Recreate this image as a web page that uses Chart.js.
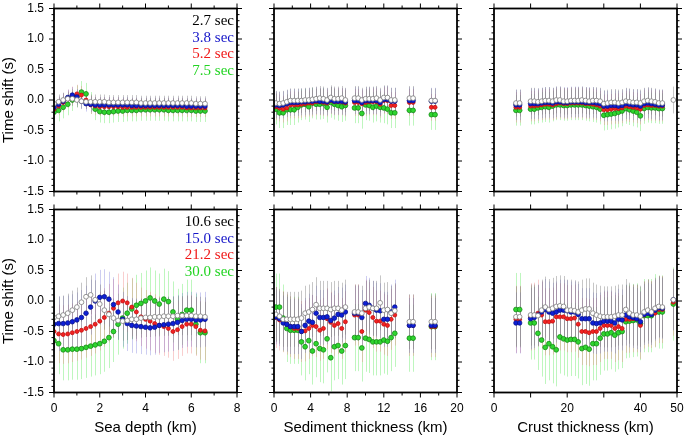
<!DOCTYPE html>
<html>
<head>
<meta charset="utf-8">
<script src="https://cdn.jsdelivr.net/npm/chart.js@4.4.1/dist/chart.umd.min.js"></script>
<style>
html, body { margin: 0; padding: 0; background: #fff; overflow: hidden; }
#wrap { position: relative; width: 685px; height: 437px; overflow: hidden; }
canvas { position: absolute; }
</style>
</head>
<body>
<div id="wrap"></div>
<script>
// legend labels (periods)
const topPeriods = ['2.7 sec', '3.8 sec', '5.2 sec', '7.5 sec'];
const bottomPeriods = ['10.6 sec', '15.0 sec', '21.2 sec', '30.0 sec'];

// sea depth (km)
const seaDepthKm = [0, 0.2, 0.4, 0.6, 0.8, 1.0, 1.2, 1.4, 1.6, 1.8,
  2.0, 2.2, 2.4, 2.6, 2.8, 3.0, 3.2, 3.4, 3.6, 3.8,
  4.0, 4.2, 4.4, 4.6, 4.8, 5.0, 5.2, 5.4, 5.6, 5.8,
  6.0, 6.2, 6.4, 6.6];
const seaTop27 = [-0.06, -0.03, 0.0, 0.02, 0.02, 0.0, -0.02, -0.03, -0.03, -0.03,
  -0.03, -0.03, -0.04, -0.04, -0.04, -0.04, -0.04, -0.04, -0.04, -0.05,
  -0.05, -0.05, -0.05, -0.05, -0.05, -0.05, -0.05, -0.05, -0.05, -0.05,
  -0.05, -0.06, -0.06, -0.06];
const seaTop38 = [-0.12, -0.07, -0.02, 0.04, 0.08, 0.05, -0.02, -0.06, -0.07, -0.08,
  -0.08, -0.08, -0.08, -0.08, -0.08, -0.08, -0.08, -0.09, -0.09, -0.09,
  -0.09, -0.09, -0.09, -0.09, -0.09, -0.09, -0.09, -0.09, -0.09, -0.1,
  -0.1, -0.1, -0.1, -0.1];
const seaTop52 = [-0.15, -0.1, -0.04, 0.02, 0.07, 0.1, 0.08, 0.0, -0.08, -0.1,
  -0.11, -0.11, -0.11, -0.11, -0.11, -0.12, -0.12, -0.12, -0.12, -0.12,
  -0.12, -0.12, -0.12, -0.12, -0.12, -0.12, -0.12, -0.12, -0.12, -0.13,
  -0.13, -0.13, -0.13, -0.13];
const seaTop75 = [-0.2, -0.17, -0.12, -0.07, 0.0, 0.06, 0.13, 0.1, -0.05, -0.15,
  -0.19, -0.2, -0.2, -0.19, -0.18, -0.18, -0.17, -0.17, -0.17, -0.16,
  -0.16, -0.16, -0.16, -0.16, -0.16, -0.17, -0.17, -0.17, -0.17, -0.17,
  -0.17, -0.18, -0.18, -0.18];
const seaBot106 = [-0.27, -0.25, -0.23, -0.2, -0.15, -0.1, -0.02, 0.07, 0.1, 0.02,
  -0.05, -0.15, -0.22, -0.28, -0.32, -0.33, -0.32, -0.3, -0.3, -0.28,
  -0.27, -0.27, -0.26, -0.26, -0.25, -0.25, -0.25, -0.24, -0.24, -0.24,
  -0.24, -0.25, -0.25, -0.26];
const seaBot150 = [-0.38, -0.37, -0.37, -0.36, -0.34, -0.31, -0.27, -0.2, -0.1, 0.0,
  0.06, 0.07, 0.03, -0.06, -0.18, -0.3, -0.37, -0.4, -0.41, -0.42,
  -0.43, -0.44, -0.43, -0.4, -0.39, -0.38, -0.37, -0.35, -0.32, -0.3,
  -0.3, -0.31, -0.31, -0.3];
const seaBot212 = [-0.5, -0.54, -0.55, -0.54, -0.52, -0.5, -0.48, -0.45, -0.42, -0.38,
  -0.33, -0.27, -0.2, -0.12, -0.03, 0.0, -0.03, -0.1, -0.18, -0.26,
  -0.3, -0.33, -0.37, -0.4, -0.42, -0.45, -0.5, -0.47, -0.42, -0.38,
  -0.38, -0.42, -0.48, -0.49];
const seaBot300 = [-0.65, -0.7, -0.8, -0.8, -0.79, -0.79, -0.78, -0.76, -0.74, -0.72,
  -0.7, -0.66, -0.6, -0.5, -0.38, -0.28, -0.2, -0.13, -0.07, -0.04,
  0.0, 0.05, 0.0, -0.05, 0.03, -0.01, -0.18, -0.3, -0.22, -0.15,
  -0.15, -0.38, -0.52, -0.52];

// sediment thickness (km)
const sedimentKm = [0.2, 0.6, 1.0, 1.4, 1.8, 2.2, 2.6, 3.0, 3.4, 3.8,
  4.2, 4.6, 5.0, 5.4, 5.8, 6.2, 6.6, 7.0, 7.4, 7.8,
  8.8, 9.2, 9.6, 10.0, 10.4, 10.8, 11.2, 11.6, 12.0, 12.4,
  12.8, 13.2, 14.8, 15.2, 17.2, 17.6];
const sedTop27 = [-0.05, -0.06, -0.05, -0.03, -0.01, -0.01, -0.01, -0.01, 0.0, 0.0,
  0.01, 0.02, 0.03, 0.02, 0.0, 0.04, 0.02, 0.02, 0.03, 0.0,
  0.03, 0.03, 0.0, 0.02, 0.02, 0.02, 0.03, 0.0, 0.04, 0.04,
  0.0, 0.0, 0.03, 0.03, -0.01, -0.01];
const sedTop38 = [-0.08, -0.09, -0.08, -0.06, -0.04, -0.04, -0.04, -0.03, -0.03, -0.02,
  -0.02, -0.01, -0.02, -0.02, -0.03, 0.0, -0.02, -0.02, -0.02, -0.03,
  -0.01, -0.01, -0.04, -0.01, -0.01, -0.01, -0.01, -0.04, 0.01, 0.01,
  -0.02, -0.02, -0.01, -0.01, -0.02, -0.02];
const sedTop52 = [-0.11, -0.13, -0.15, -0.13, -0.08, -0.08, -0.08, -0.07, -0.06, -0.05,
  -0.05, -0.03, -0.03, -0.04, -0.05, -0.01, -0.03, -0.03, -0.03, -0.05,
  -0.04, -0.04, -0.06, -0.04, -0.03, -0.03, -0.03, -0.07, -0.01, -0.01,
  -0.09, -0.09, -0.04, -0.04, -0.12, -0.12];
const sedTop75 = [-0.15, -0.21, -0.21, -0.16, -0.16, -0.16, -0.12, -0.08, -0.07, -0.11,
  -0.05, -0.07, -0.07, -0.06, -0.12, -0.04, -0.07, -0.09, -0.11, -0.09,
  -0.13, -0.13, -0.22, -0.08, -0.09, -0.12, -0.1, -0.12, -0.13, -0.15,
  -0.21, -0.21, -0.17, -0.17, -0.24, -0.24];
const sedBot106 = [-0.22, -0.25, -0.3, -0.3, -0.3, -0.3, -0.3, -0.28, -0.2, -0.18,
  -0.14, -0.06, -0.12, -0.12, -0.12, -0.14, -0.12, -0.12, -0.15, -0.1,
  -0.18, -0.18, -0.2, -0.12, -0.1, -0.12, -0.12, -0.03, -0.15, -0.14,
  -0.2, -0.16, -0.34, -0.34, -0.34, -0.34];
const sedBot150 = [-0.26, -0.29, -0.36, -0.38, -0.42, -0.42, -0.42, -0.5, -0.4, -0.33,
  -0.35, -0.2, -0.27, -0.27, -0.26, -0.32, -0.28, -0.22, -0.23, -0.18,
  -0.2, -0.2, -0.27, -0.04, -0.07, -0.12, -0.15, -0.16, -0.3, -0.3,
  -0.18, -0.1, -0.4, -0.4, -0.4, -0.4];
const sedBot212 = [-0.27, -0.31, -0.34, -0.38, -0.42, -0.45, -0.45, -0.5, -0.49, -0.45,
  -0.4, -0.42, -0.48, -0.45, -0.29, -0.35, -0.4, -0.37, -0.45, -0.34,
  -0.23, -0.23, -0.5, -0.15, -0.19, -0.27, -0.33, -0.33, -0.38, -0.4,
  -0.3, -0.23, -0.4, -0.4, -0.42, -0.42];
const sedBot300 = [-0.1, -0.1, -0.28, -0.45, -0.48, -0.48, -0.48, -0.67, -0.75, -0.65,
  -0.82, -0.7, -0.78, -0.8, -0.62, -0.93, -0.75, -0.73, -0.82, -0.73,
  -0.6, -0.6, -0.77, -0.61, -0.63, -0.67, -0.67, -0.67, -0.64, -0.66,
  -0.6, -0.53, -0.61, -0.61, -0.42, -0.42];

// crust thickness (km)
const crustKm = [6, 7, 10, 11, 12, 13, 14, 15, 16, 17,
  18, 19, 20, 21, 22, 23, 24, 25, 26, 27,
  28, 29, 30, 31, 32, 33, 34, 35, 36, 37,
  38, 39, 40, 41, 42, 43, 44, 45, 46, 49];
const crustTop27 = [-0.05, -0.05, -0.02, -0.02, -0.03, -0.02, -0.01, -0.01, -0.02, 0.0,
  0.0, -0.02, -0.02, -0.01, -0.01, -0.01, 0.0, -0.01, -0.02, -0.01,
  -0.01, -0.02, -0.06, -0.05, -0.04, -0.04, -0.05, -0.04, -0.02, -0.03,
  -0.04, -0.04, -0.05, -0.02, -0.01, -0.02, -0.03, -0.05, -0.05, 0.0];
const crustTop38 = [-0.08, -0.08, -0.06, -0.06, -0.06, -0.05, -0.04, -0.04, -0.05, -0.03,
  -0.03, -0.04, -0.04, -0.03, -0.03, -0.03, -0.03, -0.04, -0.04, -0.04,
  -0.05, -0.06, -0.1, -0.1, -0.09, -0.09, -0.1, -0.09, -0.06, -0.07,
  -0.08, -0.08, -0.1, -0.06, -0.05, -0.06, -0.07, -0.08, -0.08, null];
const crustTop52 = [-0.12, -0.12, -0.1, -0.1, -0.09, -0.08, -0.07, -0.07, -0.08, -0.06,
  -0.05, -0.06, -0.06, -0.05, -0.05, -0.05, -0.05, -0.06, -0.06, -0.07,
  -0.08, -0.1, -0.16, -0.16, -0.15, -0.14, -0.14, -0.13, -0.1, -0.11,
  -0.12, -0.13, -0.15, -0.09, -0.08, -0.09, -0.09, -0.1, -0.1, null];
const crustTop75 = [-0.17, -0.17, -0.15, -0.15, -0.13, -0.12, -0.11, -0.12, -0.1, -0.08,
  -0.08, -0.09, -0.09, -0.08, -0.08, -0.08, -0.08, -0.09, -0.1, -0.11,
  -0.12, -0.15, -0.25, -0.24, -0.23, -0.22, -0.2, -0.18, -0.14, -0.16,
  -0.18, -0.2, -0.26, -0.14, -0.12, -0.13, -0.13, -0.14, -0.14, null];
const crustBot106 = [-0.26, -0.26, -0.23, -0.23, -0.24, -0.15, -0.1, -0.14, -0.12, -0.09,
  -0.08, -0.09, -0.15, -0.15, -0.16, -0.18, -0.15, -0.13, -0.13, -0.2,
  -0.23, -0.25, -0.26, -0.26, -0.26, -0.25, -0.23, -0.23, -0.14, -0.2,
  -0.23, -0.23, -0.25, -0.18, -0.15, -0.18, -0.12, -0.09, -0.1, 0.02];
const crustBot150 = [-0.36, -0.36, -0.29, -0.27, -0.23, -0.18, -0.14, -0.18, -0.2, -0.18,
  -0.15, -0.15, -0.16, -0.18, -0.18, -0.22, -0.29, -0.29, -0.29, -0.36,
  -0.37, -0.36, -0.33, -0.33, -0.33, -0.36, -0.3, -0.31, -0.23, -0.26,
  -0.27, -0.29, -0.34, -0.22, -0.2, -0.22, -0.15, -0.11, -0.12, 0.02];
const crustBot212 = [-0.3, -0.3, -0.26, -0.25, -0.2, -0.23, -0.34, -0.34, -0.33, -0.26,
  -0.26, -0.26, -0.29, -0.29, -0.28, -0.38, -0.5, -0.5, -0.52, -0.5,
  -0.5, -0.45, -0.4, -0.4, -0.4, -0.45, -0.42, -0.45, -0.3, -0.3,
  -0.29, -0.29, -0.4, -0.23, -0.2, -0.22, -0.2, -0.14, -0.14, -0.02];
const crustBot300 = [-0.14, -0.14, -0.36, -0.36, -0.53, -0.64, -0.76, -0.7, -0.75, -0.8,
  -0.59, -0.62, -0.64, -0.63, -0.63, -0.67, -0.78, -0.76, -0.79, -0.7,
  -0.7, -0.61, -0.54, -0.54, -0.52, -0.56, -0.52, -0.5, -0.34, -0.33,
  -0.32, -0.31, -0.37, -0.24, -0.24, -0.24, -0.16, -0.18, -0.18, -0.05];

// error bar half widths (s), one per period, per panel
const errSeaTop = [0.12, 0.13, 0.15, 0.18];
const errSeaBot = [0.32, 0.45, 0.48, 0.5];
const errSedTop = [0.2, 0.22, 0.22, 0.25];
const errSedBot = [0.45, 0.45, 0.5, 0.55];
const errCrustTop = [0.22, 0.25, 0.25, 0.25];
const errCrustBot = [0.5, 0.5, 0.55, 0.6];

// marker styles for the 4 periods
const styles = [
  { fill: '#ffffff', line: '#7c7c7c', r: 2.4, bar: 'rgba(120,120,120,0.42)', text: '#000000' },
  { fill: '#0d1fd6', line: '#07128c', r: 2.3, bar: 'rgba(90,90,210,0.3)', text: '#1515c8' },
  { fill: '#f22222', line: '#c41010', r: 2.0, bar: 'rgba(240,125,125,0.38)', text: '#f01818' },
  { fill: '#2fd52f', line: '#138a13', r: 2.4, bar: 'rgba(110,235,110,0.45)', text: '#22d422' }
];

const colLeft = [54, 274, 494];
const boxW = 183, boxH = 183;

Chart.defaults.font.family = '"Liberation Sans", Arial, sans-serif';
Chart.defaults.color = '#000';

const errorBars = {
  id: 'errorBars',
  beforeDatasetsDraw(chart) {
    const { ctx, chartArea: a, scales: { x, y } } = chart;
    ctx.save();
    ctx.beginPath();
    ctx.rect(a.left, a.top, a.width, a.height);
    ctx.clip();
    ctx.lineWidth = 1;
    for (let i = chart.data.datasets.length - 1; i >= 0; i--) {
      const ds = chart.data.datasets[i];
      ctx.strokeStyle = ds.barColor;
      ctx.beginPath();
      ds.data.forEach(p => {
        if (p.y == null) return;
        const px = Math.round(x.getPixelForValue(p.x)) + 0.5;
        ctx.moveTo(px, y.getPixelForValue(p.y + ds.err));
        ctx.lineTo(px, y.getPixelForValue(p.y - ds.err));
      });
      ctx.stroke();
    }
    ctx.restore();
  }
};

function isMult(v, step) {
  return Math.abs(v / step - Math.round(v / step)) < 1e-6;
}

function frameTicks(p) {
  return {
    id: 'frameTicks',
    afterDraw(chart) {
      const { ctx, chartArea: a, scales: { x, y } } = chart;
      ctx.save();
      ctx.strokeStyle = '#000';
      ctx.lineWidth = 1;
      ctx.beginPath();
      const nx = Math.round(p.xMax / p.xMinor);
      for (let i = 0; i <= nx; i++) {
        const v = i * p.xMinor;
        const px = x.getPixelForValue(v);
        const len = isMult(v, p.xMajor) ? 5 : 3;
        ctx.moveTo(px, a.top); ctx.lineTo(px, a.top - len);
        ctx.moveTo(px, a.bottom); ctx.lineTo(px, a.bottom + len);
      }
      for (let i = 0; i <= 30; i++) {
        const v = -1.5 + i * 0.1;
        const py = y.getPixelForValue(v);
        const len = isMult(v, 0.5) ? 5 : 2.5;
        ctx.moveTo(a.left, py); ctx.lineTo(a.left - len, py);
        ctx.moveTo(a.right, py); ctx.lineTo(a.right + len, py);
      }
      ctx.stroke();
      ctx.lineWidth = 1.8;
      ctx.strokeRect(a.left, a.top, a.width, a.height);
      if (p.legend) {
        ctx.font = '15px "Liberation Serif", "Times New Roman", serif';
        ctx.textAlign = 'right';
        ctx.textBaseline = 'middle';
        p.legend.forEach((t, i) => {
          ctx.fillStyle = styles[i].text;
          ctx.fillText(t, a.right - 3, a.top + 13 + i * 16.4);
        });
      }
      ctx.restore();
    }
  };
}

const panels = [
  { col: 0, row: 0, xs: seaDepthKm, ys: [seaTop27, seaTop38, seaTop52, seaTop75], err: errSeaTop, xMax: 8, xLabel: 2, xMajor: 2, xMinor: 1, legend: topPeriods },
  { col: 1, row: 0, xs: sedimentKm, ys: [sedTop27, sedTop38, sedTop52, sedTop75], err: errSedTop, xMax: 20, xLabel: 4, xMajor: 4, xMinor: 2 },
  { col: 2, row: 0, xs: crustKm, ys: [crustTop27, crustTop38, crustTop52, crustTop75], err: errCrustTop, xMax: 50, xLabel: 20, xMajor: 10, xMinor: 10 },
  { col: 0, row: 1, xs: seaDepthKm, ys: [seaBot106, seaBot150, seaBot212, seaBot300], err: errSeaBot, xMax: 8, xLabel: 2, xMajor: 2, xMinor: 1, legend: bottomPeriods, title: 'Sea depth (km)' },
  { col: 1, row: 1, xs: sedimentKm, ys: [sedBot106, sedBot150, sedBot212, sedBot300], err: errSedBot, xMax: 20, xLabel: 4, xMajor: 4, xMinor: 2, title: 'Sediment thickness (km)' },
  { col: 2, row: 1, xs: crustKm, ys: [crustBot106, crustBot150, crustBot212, crustBot300], err: errCrustBot, xMax: 50, xLabel: 20, xMajor: 10, xMinor: 10, title: 'Crust thickness (km)' }
];

const wrap = document.getElementById('wrap');

panels.forEach(p => {
  const yW = p.col === 0 ? 54 : 20;
  const padR = p.col === 2 ? 8 : 12;
  const padT = p.row === 0 ? 8.5 : 9.5;
  const xH = p.row === 0 ? 9.5 : 44.5;
  const cvsTop = p.row === 0 ? 0 : 200;
  const w = yW + boxW + padR;
  const h = padT + boxH + xH;
  const cvs = document.createElement('canvas');
  cvs.width = w; cvs.height = h;
  cvs.style.width = w + 'px'; cvs.style.height = h + 'px';
  cvs.style.left = (colLeft[p.col] - yW) + 'px';
  cvs.style.top = cvsTop + 'px';
  wrap.appendChild(cvs);

  const datasets = p.ys.map((vals, i) => ({
    data: p.xs.map((x, j) => ({ x: x, y: vals[j] })),
    backgroundColor: styles[i].fill,
    borderColor: styles[i].line,
    borderWidth: 0.8,
    pointRadius: styles[i].r,
    pointHoverRadius: styles[i].r,
    showLine: false,
    err: p.err[i],
    barColor: styles[i].bar
  }));

  new Chart(cvs, {
    type: 'scatter',
    data: { datasets: datasets },
    options: {
      responsive: false,
      animation: false,
      events: [],
      layout: { autoPadding: false, padding: { top: padT, right: padR, left: 0, bottom: 0 } },
      plugins: { legend: { display: false }, tooltip: { enabled: false } },
      scales: {
        x: {
          type: 'linear',
          min: 0,
          max: p.xMax,
          grid: { display: false, drawTicks: false },
          border: { display: false },
          ticks: {
            display: p.row === 1,
            stepSize: p.xLabel,
            maxRotation: 0,
            autoSkip: false,
            padding: 9,
            font: { size: 12 },
            color: '#000'
          },
          title: {
            display: !!p.title,
            text: p.title || '',
            font: { size: 15 },
            color: '#000',
            padding: 0
          },
          afterFit: s => { s.height = xH; s.paddingLeft = 0; s.paddingRight = 0; }
        },
        y: {
          min: -1.5,
          max: 1.5,
          grid: { display: false, drawTicks: false },
          border: { display: false },
          ticks: {
            display: p.col === 0,
            stepSize: 0.5,
            padding: 10,
            font: { size: 12 },
            color: '#000',
            callback: v => v.toFixed(1)
          },
          title: {
            display: p.col === 0,
            text: 'Time shift (s)',
            font: { size: 15 },
            color: '#000',
            padding: 0
          },
          afterFit: s => { s.width = yW; s.paddingTop = 0; s.paddingBottom = 0; }
        }
      }
    },
    plugins: [errorBars, frameTicks(p)]
  });
});
</script>
</body>
</html>
